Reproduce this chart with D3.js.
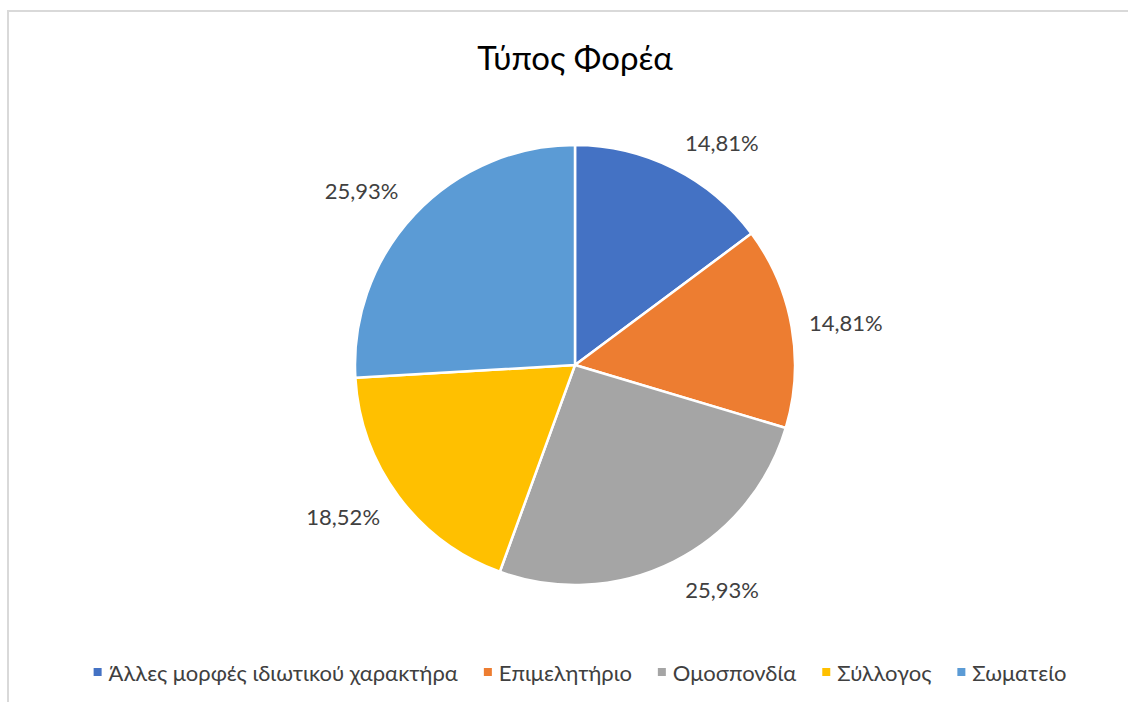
<!DOCTYPE html>
<html>
<head>
<meta charset="utf-8">
<script src="https://cdn.jsdelivr.net/npm/d3@7"></script>
<style>
  html, body { margin: 0; padding: 0; background: #fff; }
  svg { display: block; }
</style>
</head>
<body>
<svg id="chart" width="1128" height="702"></svg>
<script>
const title = "Τύπος Φορέα";
const categories = ["Άλλες μορφές ιδιωτικού χαρακτήρα", "Επιμελητήριο", "Ομοσπονδία", "Σύλλογος", "Σωματείο"];
const values = [14.81, 14.81, 25.93, 18.52, 25.93];
const labels = ["14,81%", "14,81%", "25,93%", "18,52%", "25,93%"];
const colors = ["#4472C4", "#ED7D31", "#A5A5A5", "#FFC000", "#5B9BD5"];

// label placement nudges (best-fit style), degrees and radii
const labelAngleShift = [6.7, 1.2, -6.6, 3.5, -4.0];
const labelRadius = [267, 274, 268, 277, 276];

const font = "Lato, 'Open Sans', sans-serif";
const svg = d3.select("#chart");

// chart border
svg.append("path")
  .attr("d", "M8,702 L8,11 L1128,11")
  .attr("fill", "none")
  .attr("stroke", "#d9d9d9")
  .attr("stroke-width", 2);

svg.append("text")
  .attr("x", 575).attr("y", 57)
  .attr("text-anchor", "middle")
  .attr("dominant-baseline", "central")
  .style("font-family", font)
  .style("font-size", "33px")
  .attr("fill", "#000")
  .text(title);

const cx = 575, cy = 365, R = 220;
const pie = d3.pie().sort(null).value(d => d)(values);
const arc = d3.arc().innerRadius(0).outerRadius(R);
const g = svg.append("g").attr("transform", `translate(${cx},${cy})`);

g.selectAll("path.slice").data(pie).enter().append("path")
  .attr("class", "slice")
  .attr("d", arc)
  .attr("fill", (d, i) => colors[i])
  .attr("stroke", "#fff")
  .attr("stroke-width", 2.5)
  .attr("stroke-linejoin", "round");

g.selectAll("text.lbl").data(pie).enter().append("text")
  .attr("class", "lbl")
  .each(function(d, i) {
    const a = (d.startAngle + d.endAngle) / 2 + labelAngleShift[i] * Math.PI / 180;
    const la = d3.arc().innerRadius(labelRadius[i]).outerRadius(labelRadius[i]);
    const p = la.centroid({startAngle: a, endAngle: a});
    d3.select(this).attr("x", p[0]).attr("y", p[1]);
  })
  .attr("text-anchor", "middle")
  .attr("dominant-baseline", "central")
  .style("font-family", font)
  .style("font-size", "22px")
  .attr("fill", "#404040")
  .text((d, i) => labels[i]);

// legend
const legend = svg.append("g");
const items = legend.selectAll("g").data(categories).enter().append("g");
items.append("rect")
  .attr("width", 8).attr("height", 8)
  .attr("y", -4)
  .attr("fill", (d, i) => colors[i]);
items.append("text")
  .attr("x", 15)
  .attr("dominant-baseline", "central")
  .style("font-family", font)
  .style("font-size", "22px")
  .attr("fill", "#404040")
  .text(d => d);
let x = 0;
const gap = 26;
items.each(function() {
  const w = this.getBBox().width;
  d3.select(this).attr("data-x", x);
  x += w + gap;
});
const total = x - gap;
const startX = 580 - total / 2;
items.attr("transform", function() {
  return `translate(${startX + (+d3.select(this).attr("data-x"))},672)`;
});
</script>
</body>
</html>
